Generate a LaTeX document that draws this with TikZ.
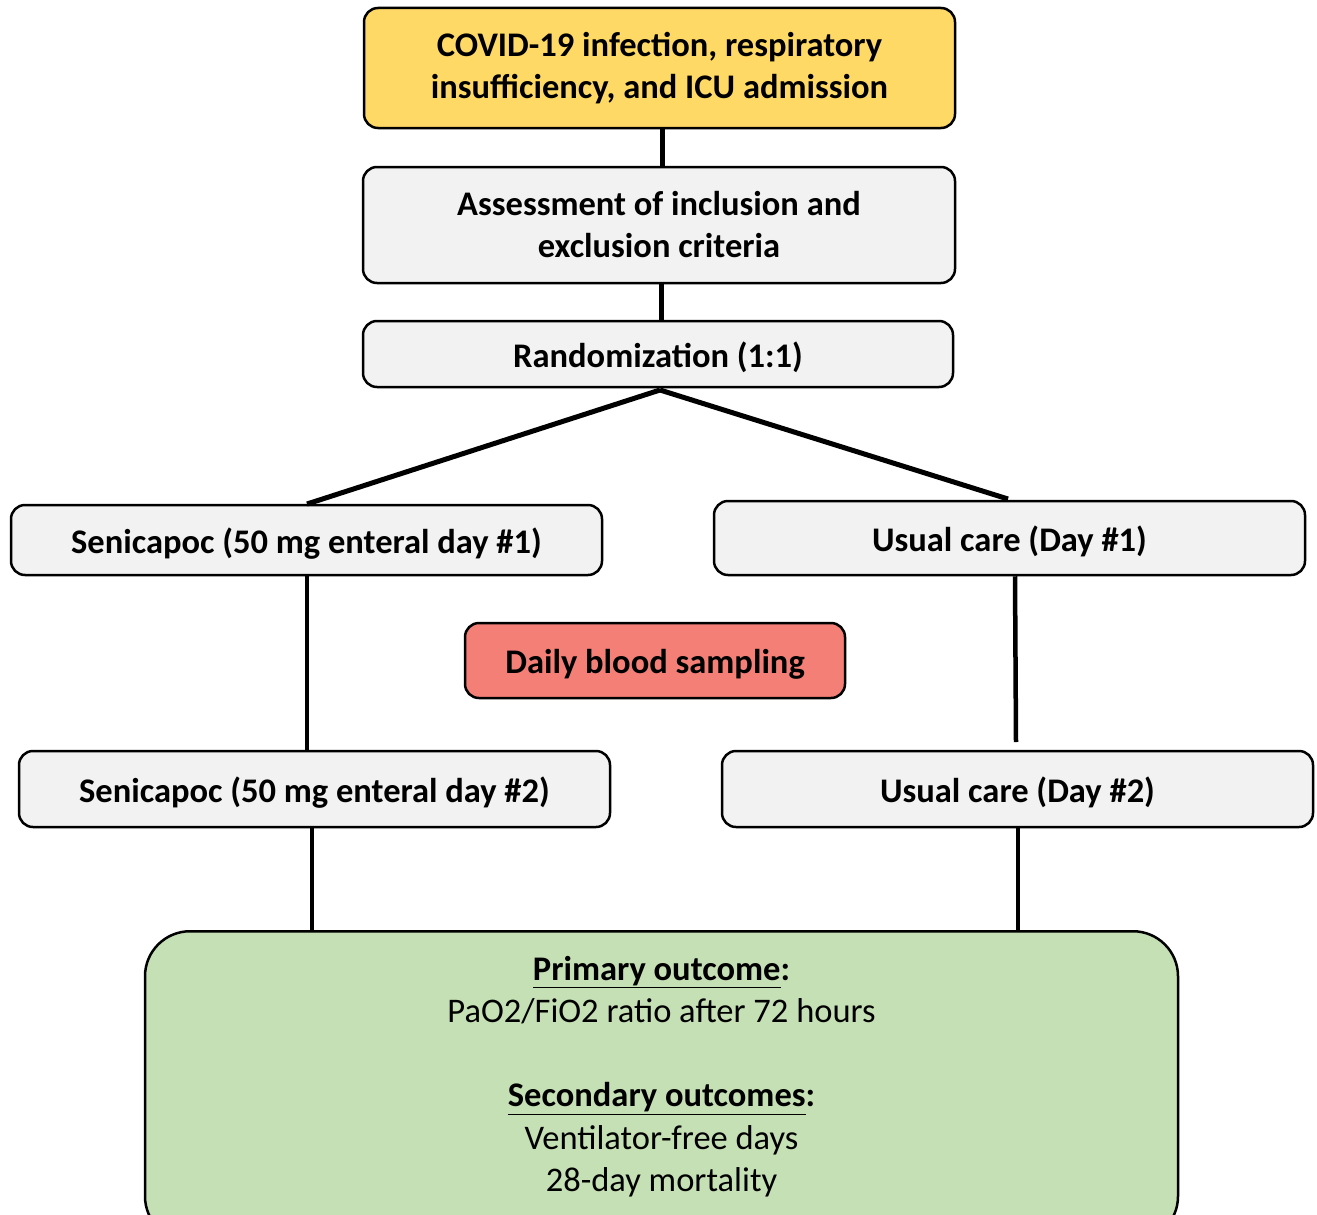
\documentclass[tikz,border=0pt]{standalone}
\usepackage{fontspec}
\setmainfont{Carlito}
\definecolor{cyellow}{HTML}{FFD966}
\definecolor{cgrey}{HTML}{F2F2F2}
\definecolor{cred}{HTML}{F47F76}
\definecolor{cgreen}{HTML}{C5E0B4}
\begin{document}
\begin{tikzpicture}[x=1pt,y=-1pt,
  box/.style={draw=black, line width=2.5pt, rounded corners=14pt, fill=cgrey, inner sep=0pt, align=center,
    font=\fontsize{34.5}{42}\selectfont\bfseries, execute at begin node={\rule{0pt}{32pt}}},
  conn/.style={line width=5pt},
  thinconn/.style={line width=4.5pt}]
\useasboundingbox (0,0) rectangle (1317,1215);
\node[box, fill=cyellow, minimum width=591pt, minimum height=120pt] (covid) at (659.5,68) {COVID-19 infection, respiratory\\insufficiency, and ICU admission};
\node[box, minimum width=592pt, minimum height=116pt] (assess) at (659,225) {Assessment of inclusion and\\exclusion criteria};
\node[box, minimum width=590pt, minimum height=66pt] (rand) at (658,354) {Randomization (1:1)};
\node[box, minimum width=591pt, minimum height=70pt] (sen1) at (306.5,540) {Senicapoc (50 mg enteral day \#1)};
\node[box, minimum width=591pt, minimum height=74pt] (usual1) at (1009.5,538) {Usual care (Day \#1)};
\node[box, fill=cred, minimum width=380pt, minimum height=75pt] (blood) at (655,660.5) {Daily blood sampling};
\node[box, minimum width=591pt, minimum height=76pt] (sen2) at (314.5,789) {Senicapoc (50 mg enteral day \#2)};
\node[box, minimum width=591pt, minimum height=76pt] (usual2) at (1017.5,789) {Usual care (Day \#2)};
\node[draw=black, line width=2.5pt, fill=cgreen, rounded corners=45pt, inner sep=0pt, minimum width=1033pt, minimum height=310pt, anchor=north] (outcome) at (661.5,930) {};
\node[align=center, inner sep=0pt, font=\fontsize{34.5}{42.3}\selectfont] (outtext) at (661.5,1076.5)
  {\textbf{\underline{Primary outcome}:}\\PaO2/FiO2 ratio after 72 hours\\[42.3pt]\textbf{\underline{Secondary outcomes}:}\\Ventilator-free days\\28-day mortality};
\coordinate (rsplit) at (660,390);
\coordinate (s1top) at (307,504);
\coordinate (u1top) at (1008,499);
\coordinate (u1end) at (1016,742);
\draw[conn] (covid.south -| 662,0) -- (assess.north -| 662,0);
\draw[conn] (assess.south -| 661,0) -- (rand.north -| 661,0);
\draw[conn] (rsplit) -- (s1top);
\draw[conn] (rsplit) -- (u1top);
\draw[thinconn] (sen1.south -| 307,0) -- (sen2.north -| 307,0);
\draw[thinconn] (usual1.south -| 1015,0) -- (u1end);
\draw[thinconn] (sen2.south -| 312,0) -- (outcome.north -| 312,0);
\draw[thinconn] (usual2.south -| 1018,0) -- (outcome.north -| 1018,0);
\end{tikzpicture}
\end{document}
